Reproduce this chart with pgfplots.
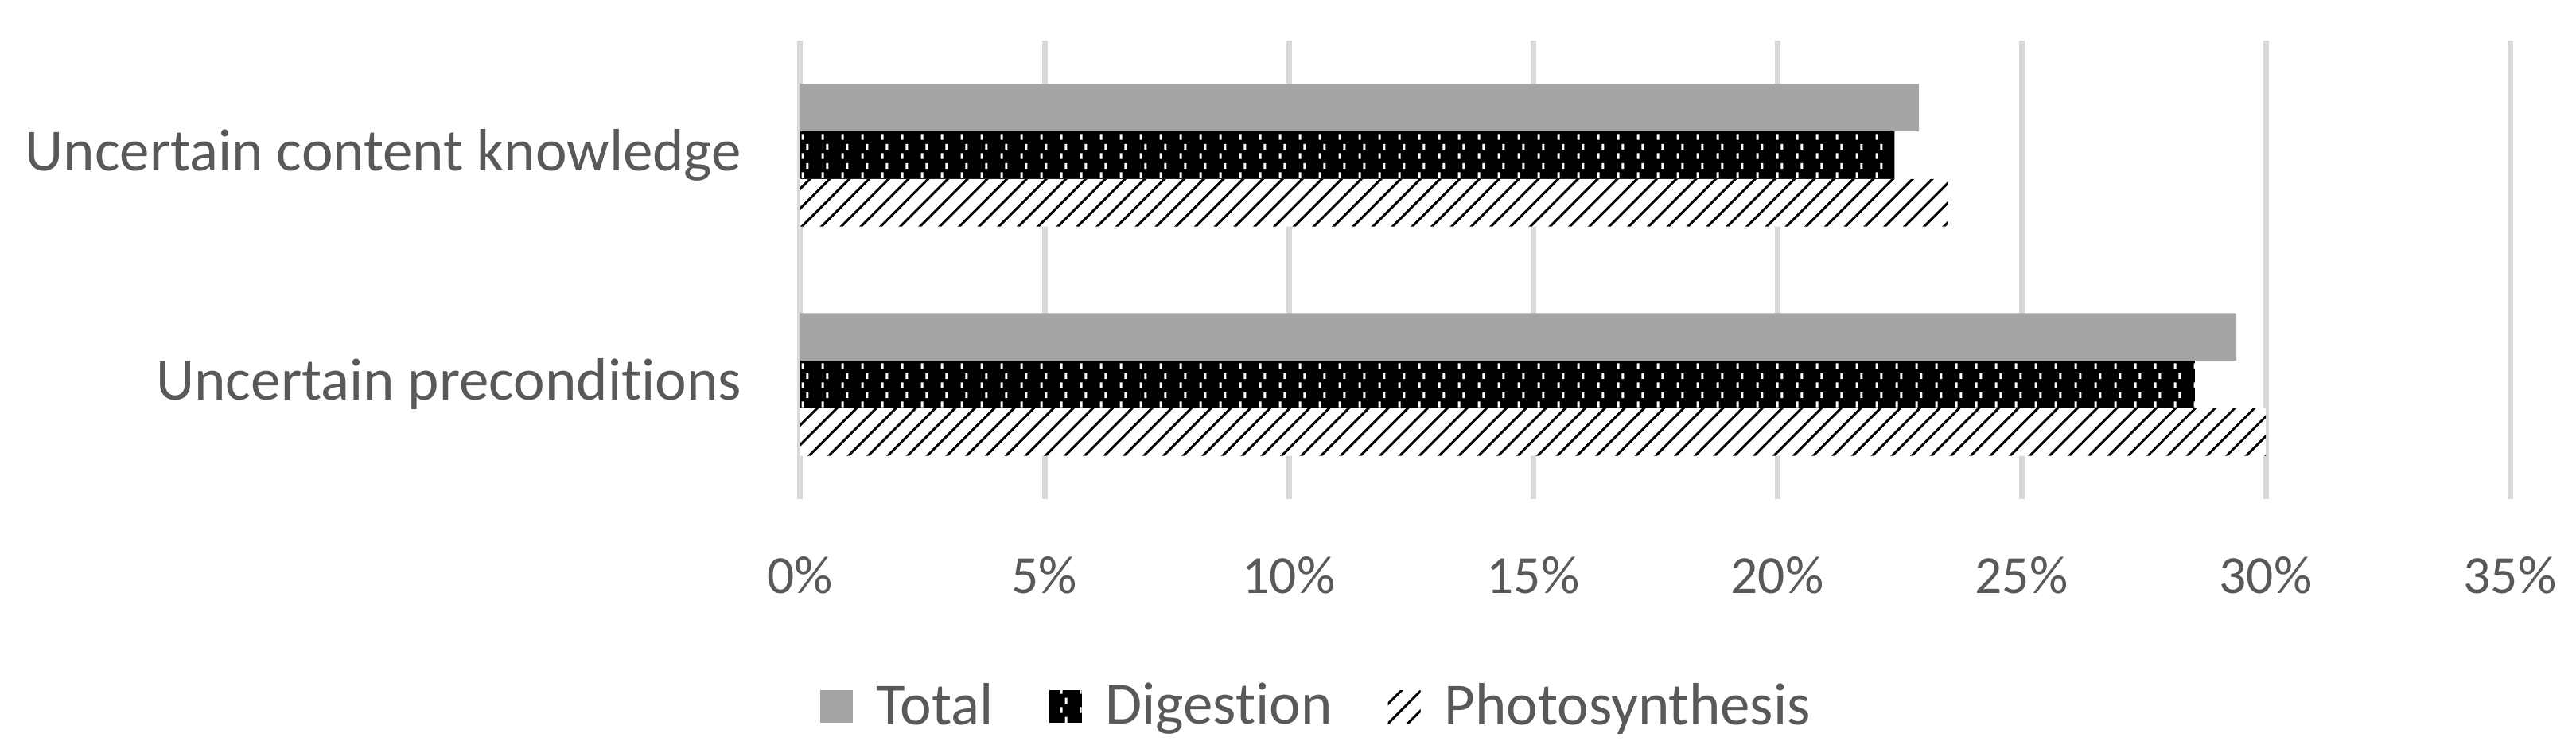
\documentclass[border=0pt]{standalone}
\usepackage{fontspec}
\setmainfont{Carlito}[Ligatures=NoCommon]
\usepackage{pgfplots}
\pgfplotsset{compat=1.18}
\usetikzlibrary{patterns,patterns.meta}
\definecolor{totalgray}{HTML}{A5A5A5}
\definecolor{gridgray}{HTML}{D9D9D9}
\definecolor{txtgray}{HTML}{595959}

% white dashes on black (Digestion), rows staggered
\pgfdeclarepatternformonly{digdots}{\pgfpointorigin}{\pgfqpoint{5pt}{4.8pt}}{\pgfqpoint{5pt}{4.8pt}}{%
  \pgfpathrectangle{\pgfqpoint{1.6pt}{0.5pt}}{\pgfqpoint{0.6pt}{1.5pt}}%
  \pgfpathrectangle{\pgfqpoint{2.8pt}{2.9pt}}{\pgfqpoint{0.6pt}{1.5pt}}%
  \pgfusepath{fill}}

\newcommand{\catfont}{\fontsize{15}{18}\selectfont}
\newcommand{\tickfont}{\fontsize{13.5}{16}\selectfont}

\begin{document}
\begin{tikzpicture}
\useasboundingbox (0,0) rectangle (647.6pt,189.2pt);
\begin{axis}[
  at={(201.2pt,63.8pt)}, anchor=south west,
  width=429.8pt, height=115.2pt, scale only axis,
  xbar, bar width=11.94pt,
  xmin=0, xmax=35, ymin=-0.5, ymax=1.5,
  xtick={0,5,...,35},
  xticklabel={\pgfmathprintnumber{\tick}\%},
  /pgf/number format/assume math mode=true,
  ytick={0,1},
  yticklabels={Uncertain preconditions,Uncertain content knowledge},
  major tick length=0pt,
  axis line style={draw=none},
  xmajorgrids, grid style={gridgray, line width=1.4pt},
  tick label style={text=txtgray, inner sep=0pt},
  xticklabel style={font=\tickfont, anchor=center, yshift=-19.2pt},
  yticklabel style={font=\catfont, anchor=east, xshift=-14.6pt},
  legend columns=3,
  legend style={at={(0.3035,-0.453)}, anchor=center, draw=none, fill=none,
    font=\catfont, text=txtgray, inner sep=0pt,
    /tikz/every odd column/.append style={column sep=4pt},
    /tikz/every even column/.append style={column sep=12pt}},
  legend image code/.code={\draw[#1, draw=none] (0pt,-4.1pt) rectangle (8.2pt,4.1pt);},
]
\addplot[fill=totalgray, draw=none, bar shift=11.94pt] coordinates {(29.4,0) (22.9,1)};
\addlegendentry{Total}
\addplot[fill=black, draw=none, bar shift=0pt,
  postaction={pattern=digdots, pattern color=white}] coordinates {(28.55,0) (22.4,1)};
\addlegendentry{Digestion}
\addplot[fill=white, draw=none, bar shift=-11.94pt,
  postaction={pattern={Lines[angle=45,distance=3.5pt,line width=0.6pt]}, pattern color=black}]
  coordinates {(30.0,0) (23.5,1)};
\addlegendentry{Photosynthesis}
\end{axis}
\end{tikzpicture}
\end{document}
